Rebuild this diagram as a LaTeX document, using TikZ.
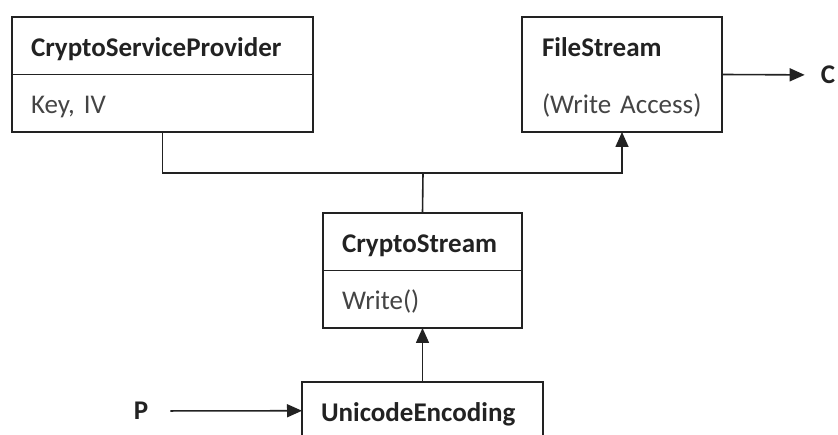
\documentclass[tikz,border=0pt]{standalone}
\usepackage{fontspec}
\setmainfont{Carlito}
\usetikzlibrary{arrows.meta,positioning}
\definecolor{ink}{HTML}{222222}
\definecolor{soft}{HTML}{444444}
\begin{document}
\begin{tikzpicture}[x=1pt,y=-1pt,
  head/.style={draw=ink,line width=1.6pt,outer sep=0pt,inner xsep=19pt,align=left,minimum height=57.5pt,text height=24pt,text depth=2.5pt,font=\fontsize{27}{32}\selectfont\bfseries,text=ink},
  part/.style={head,font=\fontsize{27}{32}\selectfont,text=soft},
  lbl/.style={inner sep=0pt,font=\fontsize{27}{32}\selectfont\bfseries,text=ink},
  wire/.style={draw=ink,line width=1.6pt},
  arr/.style={wire,-{Triangle[length=15pt,width=13pt]}}]
  \useasboundingbox (0,0) rectangle (838,435);
  \clip (0,0) rectangle (838,435);
  \node[head,text width=263pt,anchor=north west] (csp) at (12,17) {CryptoServiceProvider};
  \node[part,text width=263pt,below=0pt of csp] (cspb) {Key, IV};
  \node[head,draw=none,text width=160pt,inner xsep=20pt,anchor=north west] (fs) at (522,17) {FileStream};
  \node[part,draw=none,text width=160pt,inner xsep=20pt,below=0pt of fs] (fsb) {(Write Access)};
  \draw[wire] (fs.north west) rectangle (fsb.south east);
  \node[head,text width=161pt,anchor=north west] (cs) at (323,213) {CryptoStream};
  \node[part,text width=161pt,below=0pt of cs] (csb) {Write()};
  \node[head,text width=203pt,anchor=north west] (ue) at (302,382) {UnicodeEncoding};
  \node[lbl] (p) at (141,411) {P};
  \node[lbl] (c) at (828,75) {C};
  \coordinate (bus) at (423,173);
  \draw[wire] (cspb.south) |- (bus);
  \draw[arr] (bus) -| (fsb.south);
  \draw[wire] (bus) -- (cs.north);
  \draw[arr] (ue.north) -- (csb.south);
  \draw[arr,shorten <=22pt] (p) -- (ue.west);
  \draw[arr,shorten >=16pt] (fs.south east) -- (c);
\end{tikzpicture}
\end{document}
